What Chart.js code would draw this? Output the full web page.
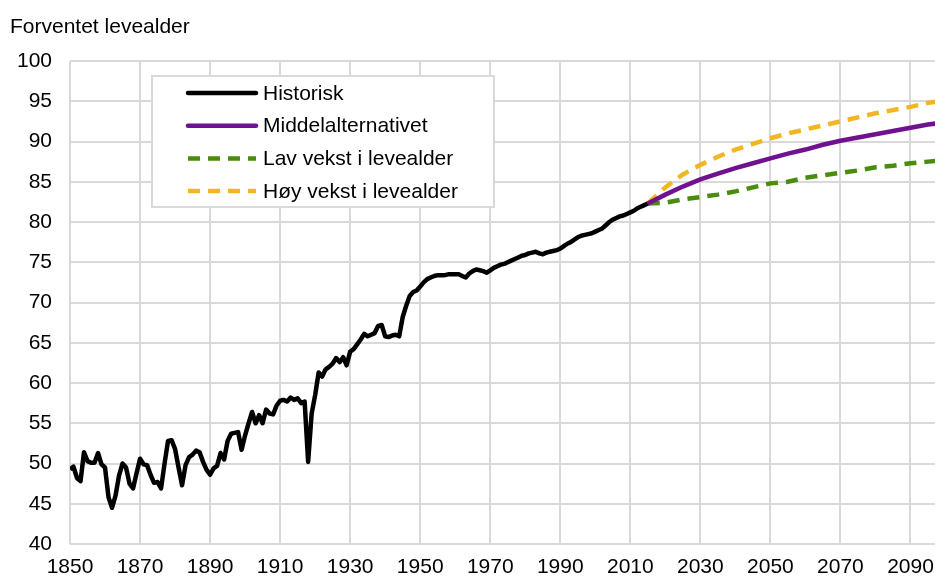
<!DOCTYPE html>
<html>
<head>
<meta charset="utf-8">
<script src="https://cdn.jsdelivr.net/npm/chart.js@4.4.1/dist/chart.umd.min.js"></script>
<style>
  html, body { margin: 0; padding: 0; background: #fff; }
</style>
</head>
<body>
<canvas id="chart" width="935" height="579"></canvas>
<script>
// historical life expectancy, one value per year from 1850
const histStart = 1850;
const histValues = [
  49.3, 49.6, 48.2, 47.8, 51.4, 50.3, 50.1, 50.1, 51.3, 49.9, // 1850-
  49.5, 45.8, 44.5, 46.0, 48.5, 50.0, 49.5, 47.5, 46.9, 48.8, // 1860-
  50.6, 49.9, 49.8, 48.6, 47.6, 47.7, 46.9, 50.0, 52.8, 52.9, // 1870-
  51.8, 49.5, 47.3, 49.8, 50.8, 51.1, 51.6, 51.4, 50.2, 49.2, // 1880-
  48.6, 49.4, 49.7, 51.3, 50.5, 52.8, 53.7, 53.8, 53.9, 51.7, // 1890-
  53.5, 55.0, 56.4, 55.0, 56.0, 55.0, 56.7, 56.2, 56.1, 57.2, // 1900-
  57.8, 57.9, 57.7, 58.2, 57.9, 58.1, 57.5, 57.7, 50.2, 56.2, // 1910-
  58.5, 61.3, 60.8, 61.7, 62.0, 62.4, 63.1, 62.6, 63.2, 62.2, // 1920-
  63.9, 64.2, 64.8, 65.4, 66.1, 65.8, 66.0, 66.2, 67.1, 67.2, // 1930-
  65.8, 65.7, 65.9, 66.0, 65.8, 68.2, 69.6, 70.8, 71.3, 71.5, // 1940-
  72.0, 72.5, 72.9, 73.1, 73.3, 73.4, 73.4, 73.4, 73.5, 73.5, // 1950-
  73.5, 73.5, 73.3, 73.1, 73.6, 73.9, 74.1, 74.0, 73.9, 73.7, // 1960-
  74.0, 74.3, 74.5, 74.7, 74.8, 75.0, 75.2, 75.4, 75.6, 75.8, // 1970-
  75.9, 76.1, 76.2, 76.3, 76.1, 76.0, 76.2, 76.3, 76.4, 76.5, // 1980-
  76.7, 77.0, 77.3, 77.5, 77.8, 78.1, 78.3, 78.4, 78.5, 78.6, // 1990-
  78.8, 79.0, 79.2, 79.6, 80.0, 80.3, 80.5, 80.7, 80.8, 81.0, // 2000-
  81.2, 81.4, 81.7, 81.9, 82.1, 82.3                          // 2010-
];

// projections
const projYears = [2015, 2020, 2025, 2030, 2035, 2040, 2045, 2050, 2055,
                   2060, 2065, 2070, 2075, 2080, 2085, 2090, 2095, 2100];
const midValues  = [82.3, 83.4, 84.4, 85.3, 86.0, 86.7, 87.3, 87.9, 88.5,
                    89.0, 89.6, 90.1, 90.5, 90.9, 91.3, 91.7, 92.1, 92.4];
const lowValues  = [82.3, 82.4, 82.8, 83.1, 83.4, 83.8, 84.3, 84.8, 85.0,
                    85.5, 85.8, 86.1, 86.4, 86.8, 87.0, 87.3, 87.5, 87.7];
const highValues = [82.3, 84.3, 85.9, 87.1, 88.1, 89.0, 89.7, 90.4, 91.0,
                    91.5, 92.0, 92.5, 93.0, 93.5, 93.9, 94.3, 94.8, 95.1];

// x axis tick labels
const xTickYears = [1850, 1870, 1890, 1910, 1930, 1950, 1970, 1990, 2010, 2030, 2050, 2070, 2090];

const seriesNames = ['Historisk', 'Middelalternativet', 'Lav vekst i levealder', 'Høy vekst i levealder'];
const yTitle = 'Forventet levealder';

const FONT = '"Liberation Sans", Arial, sans-serif';

const histPoints = histValues.map((v, i) => ({ x: histStart + i, y: v }));
const toPoints = vals => vals.map((v, i) => ({ x: projYears[i], y: v }));

// legend box + axis title drawn on the canvas
const extras = {
  id: 'extras',
  afterDatasetsDraw(chart) {
    const ctx = chart.ctx;
    ctx.save();
    // axis title
    ctx.font = '21px ' + FONT;
    ctx.fillStyle = '#000';
    ctx.textBaseline = 'middle';
    ctx.textAlign = 'left';
    ctx.fillText(yTitle, 10, 27);

    // legend
    const bx = 152, by = 76, bw = 342, bh = 131;
    ctx.fillStyle = '#fff';
    ctx.fillRect(bx, by, bw, bh);
    ctx.strokeStyle = '#d9d9d9';
    ctx.lineWidth = 2;
    ctx.strokeRect(bx, by, bw, bh);
    chart.data.datasets.forEach((ds, i) => {
      const y = 93 + i * 32.7;
      ctx.beginPath();
      ctx.strokeStyle = ds.borderColor;
      ctx.lineWidth = 4.5;
      ctx.lineCap = ds.borderDash ? 'butt' : 'round';
      ctx.setLineDash(ds.borderDash || []);
      ctx.moveTo(188, y);
      ctx.lineTo(256, y);
      ctx.stroke();
      ctx.setLineDash([]);
      ctx.fillStyle = '#000';
      ctx.fillText(ds.label, 263, y + 1);
    });
    ctx.restore();
  }
};

new Chart(document.getElementById('chart'), {
  type: 'line',
  data: {
    datasets: [
      {
        label: seriesNames[0],
        data: histPoints,
        borderColor: '#000000',
        borderWidth: 4.5,
        borderJoinStyle: 'round'
      },
      {
        label: seriesNames[1],
        data: toPoints(midValues),
        borderColor: '#70128f',
        borderWidth: 4.5
      },
      {
        label: seriesNames[2],
        data: toPoints(lowValues),
        borderColor: '#4a8c0c',
        borderWidth: 4.5,
        borderDash: [12, 8]
      },
      {
        label: seriesNames[3],
        data: toPoints(highValues),
        borderColor: '#f2b622',
        borderWidth: 4.5,
        borderDash: [12, 8]
      }
    ]
  },
  options: {
    responsive: false,
    animation: false,
    devicePixelRatio: 1,
    elements: { point: { radius: 0 }, line: { tension: 0 } },
    layout: { padding: { top: 61, left: 0, right: 0, bottom: 0 } },
    plugins: {
      legend: { display: false },
      tooltip: { enabled: false },
      title: { display: false }
    },
    scales: {
      x: {
        type: 'linear',
        min: 1850,
        max: 2097,
        border: { display: false },
        grid: { color: '#d9d9d9', lineWidth: 2, drawTicks: false },
        afterBuildTicks: s => { s.ticks = xTickYears.map(v => ({ value: v })); },
        ticks: {
          autoSkip: false,
          maxRotation: 0,
          padding: 11,
          color: '#000',
          font: { family: FONT, size: 21 },
          callback: v => String(v)
        },
        afterFit: s => {
          s.height = 35;
          s.paddingLeft = 0;
          s.paddingRight = 0;
        }
      },
      y: {
        min: 40,
        max: 100,
        border: { display: false },
        grid: { color: '#d9d9d9', lineWidth: 2, drawTicks: false },
        ticks: {
          stepSize: 5,
          padding: 18,
          color: '#000',
          font: { family: FONT, size: 21 }
        },
        afterFit: s => { s.width = 70; }
      }
    }
  },
  plugins: [extras]
});
</script>
</body>
</html>
